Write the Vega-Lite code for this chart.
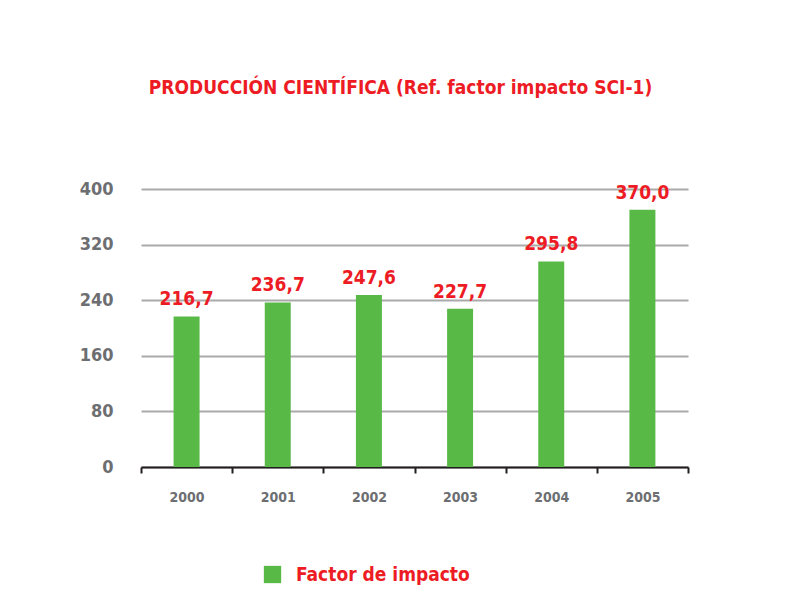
{
  "$schema": "https://vega.github.io/schema/vega-lite/v6.json",
  "width": 547,
  "height": 278,
  "autosize": "none",
  "padding": {"left": 141, "top": 189, "right": 112, "bottom": 147},
  "background": "white",
  "config": {
    "view": {"stroke": null},
    "locale": {"number": {"decimal": ",", "thousands": ".", "grouping": [3], "currency": ["", " €"]}}
  },
  "title": {
    "text": "PRODUCCIÓN CIENTÍFICA (Ref. factor impacto SCI-1)",
    "font": "DejaVu Sans Condensed",
    "fontSize": 19,
    "fontWeight": "bold",
    "color": "#ed1c24",
    "anchor": "middle",
    "dx": -14,
    "offset": 82
  },
  "data": {
    "values": [
      {"year": "2000", "value": 216.7, "serie": "Factor de impacto"},
      {"year": "2001", "value": 236.7, "serie": "Factor de impacto"},
      {"year": "2002", "value": 247.6, "serie": "Factor de impacto"},
      {"year": "2003", "value": 227.7, "serie": "Factor de impacto"},
      {"year": "2004", "value": 295.8, "serie": "Factor de impacto"},
      {"year": "2005", "value": 370.0, "serie": "Factor de impacto"}
    ]
  },
  "encoding": {
    "x": {
      "field": "year",
      "type": "nominal",
      "scale": {"paddingInner": 0, "paddingOuter": 0},
      "axis": {
        "title": null,
        "labelAngle": 0,
        "labelFont": "DejaVu Sans Condensed",
        "labelFontSize": 14,
        "labelFontWeight": "bold",
        "labelColor": "#6d6e71",
        "labelPadding": 17,
        "domainColor": "#231f20",
        "domainWidth": 2,
        "tickColor": "#231f20",
        "tickWidth": 2,
        "tickSize": 6,
        "tickBand": "extent",
        "grid": false
      }
    }
  },
  "layer": [
    {
      "mark": {"type": "bar", "color": "#58b947", "width": {"band": 0.285}},
      "encoding": {
        "y": {
          "field": "value",
          "type": "quantitative",
          "scale": {"domain": [0, 400], "nice": false},
          "axis": {
            "title": null,
            "values": [0, 80, 160, 240, 320, 400],
            "labelFont": "DejaVu Sans Condensed",
            "labelFontSize": 18,
            "labelFontWeight": "bold",
            "labelColor": "#6d6e71",
            "labelPadding": 28,
            "domain": false,
            "ticks": false,
            "gridColor": "#aaaaaa",
            "gridWidth": 2
          }
        },
        "color": {
          "field": "serie",
          "type": "nominal",
          "scale": {"range": ["#58b947"]},
          "legend": {
            "title": null,
            "orient": "none",
            "legendX": 122,
            "legendY": 376,
            "padding": 0,
            "symbolType": "square",
            "symbolSize": 300,
            "symbolStrokeWidth": 0,
            "symbolOpacity": 1,
            "labelFont": "DejaVu Sans Condensed",
            "labelFontSize": 19,
            "labelFontWeight": "bold",
            "labelColor": "#ed1c24",
            "labelOffset": 14,
            "labelLimit": 0
          }
        }
      }
    },
    {
      "mark": {
        "type": "text",
        "baseline": "alphabetic",
        "dy": -11,
        "font": "DejaVu Sans Condensed",
        "fontSize": 19,
        "fontWeight": "bold",
        "color": "#ed1c24"
      },
      "encoding": {
        "y": {"field": "value", "type": "quantitative"},
        "text": {"field": "value", "type": "quantitative", "format": ".1f"}
      }
    }
  ]
}
